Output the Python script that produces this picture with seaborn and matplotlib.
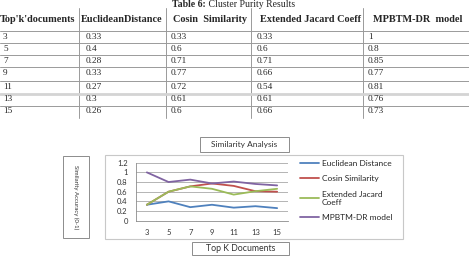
import matplotlib
matplotlib.use("Agg")
import matplotlib.pyplot as plt
from matplotlib.patches import Rectangle
from matplotlib.lines import Line2D
import seaborn as sns
import pandas as pd

# ---------------- data ----------------
top_k = [3, 5, 7, 9, 11, 13, 15]
euclidean = [0.33, 0.4, 0.28, 0.33, 0.27, 0.3, 0.26]
cosine = [0.33, 0.6, 0.71, 0.77, 0.72, 0.61, 0.6]
jacard = [0.33, 0.6, 0.71, 0.66, 0.54, 0.61, 0.66]
mpbtm = [1, 0.8, 0.85, 0.77, 0.81, 0.76, 0.73]
table_values = {
    "euclidean": ["0.33", "0.4", "0.28", "0.33", "0.27", "0.3", "0.26"],
    "cosine": ["0.33", "0.6", "0.71", "0.77", "0.72", "0.61", "0.6"],
    "jacard": ["0.33", "0.6", "0.71", "0.66", "0.54", "0.61", "0.66"],
    "mpbtm": ["1", "0.8", "0.85", "0.77", "0.81", "0.76", "0.73"],
}
headers = ["Top'k'documents", "EuclideanDistance", "Cosin  Similarity",
           "Extended Jacard Coeff", "MPBTM-DR  model"]
series_names = ["Euclidean Distance", "Cosin Similarity", "Extended Jacard Coeff", "MPBTM-DR model"]
legend_labels = ["Euclidean Distance", "Cosin Similarity", "Extended Jacard\nCoeff", "MPBTM-DR model"]
colors = ["#4F81BD", "#C0504D", "#9BBB59", "#8064A2"]
y_ticks = [0, 0.2, 0.4, 0.6, 0.8, 1, 1.2]
y_tick_labels = ["0", "0.2", "0.4", "0.6", "0.8", "1", "1.2"]

# ---------------- setup ----------------
sns.set_style("white")
plt.rcParams["font.family"] = ["Lato", "DejaVu Sans"]

W, H = 469, 260
fig = plt.figure(figsize=(W / 100, H / 100), dpi=100)
fig.patch.set_facecolor("white")

def fx(px):
    return px / W

def fy(py):
    return 1 - py / H

# ---------------- table ----------------
serif = ["Liberation Serif", "DejaVu Serif"]
fig.text(fx(206), fy(4.5), "Table 6:", ha="right", va="center", fontsize=7,
         fontweight="bold", family=serif)
fig.text(fx(206), fy(4.5), " Cluster Purity Results", ha="left", va="center", fontsize=7,
         family=serif)

col_lines = [79, 166, 250.7, 363.3]
row_lines = [31, 43.3, 55.3, 67.3, 80.7, 106.3]
for x in col_lines:
    fig.add_artist(Line2D([fx(x), fx(x)], [fy(8), fy(118)], color="#9a9a9a", lw=0.7))
for y in row_lines:
    fig.add_artist(Line2D([0, 1], [fy(y), fy(y)], color="#9a9a9a", lw=0.7))
fig.add_artist(Line2D([0, 1], [fy(94), fy(94)], color="#d4d4d4", lw=2.0))

header_x = [0, 80.5, 173, 260, 373]
for hx, h in zip(header_x, headers):
    fig.text(fx(hx), fy(19), h, ha="left", va="center", fontsize=7.4,
             fontweight="bold", family=serif)

row_y = [37.3, 49.3, 61.3, 73.3, 86.7, 99.3, 111.3]
data_x = [3, 86, 171, 256.5, 368]
cols = [[str(k) for k in top_k], table_values["euclidean"], table_values["cosine"],
        table_values["jacard"], table_values["mpbtm"]]
for cx, col in zip(data_x, cols):
    for ry, v in zip(row_y, col):
        fig.text(fx(cx), fy(ry), v, ha="left", va="center", fontsize=6.7, family=serif)

# ---------------- chart ----------------
# outer chart frame
fig.add_artist(Rectangle((fx(105), fy(239)), fx(403) - fx(105), fy(155) - fy(239),
                         transform=fig.transFigure, fill=False, ec="#c8c8c8", lw=0.8))

ax = fig.add_axes([fx(136), fy(220.7), fx(288) - fx(136), fy(162.7) - fy(220.7)])

df = pd.DataFrame({
    "k": top_k * 4,
    "value": euclidean + cosine + jacard + mpbtm,
    "series": sum([[s] * len(top_k) for s in series_names], []),
})
sns.lineplot(data=df, x="k", y="value", hue="series", hue_order=series_names,
             palette=colors, linewidth=1.3, ax=ax, legend=True)

ax.set_xlim(2, 16)
ax.set_ylim(0, 1.2)
ax.set_yticks(y_ticks)
ax.set_yticklabels(y_tick_labels)
ax.set_xticks(top_k)
ax.set_xticklabels([str(k) for k in top_k])
ax.set_xticks(list(range(2, 17, 2)), minor=True)
ax.tick_params(axis="x", which="major", length=0, pad=6, labelsize=5.5, colors="#333333")
ax.tick_params(axis="x", which="minor", length=3, width=0.6, color="#8c8c8c", direction="out")
ax.tick_params(axis="y", which="major", length=3, width=0.6, color="#8c8c8c", pad=3,
               labelsize=5.5, labelcolor="#333333", direction="out")
ax.yaxis.grid(True, color="#a8a8a8", lw=0.6)
ax.xaxis.grid(False)
ax.set_axisbelow(True)
for side in ["top", "right"]:
    ax.spines[side].set_visible(False)
for side in ["left", "bottom"]:
    ax.spines[side].set_color("#8c8c8c")
    ax.spines[side].set_linewidth(0.6)
ax.set_xlabel("")
ax.set_ylabel("")

handles, labels = ax.get_legend_handles_labels()
label_map = dict(zip(series_names, legend_labels))
ax.legend(handles, [label_map[l] for l in labels], loc="upper left",
          bbox_to_anchor=(fx(300), fy(160)), bbox_transform=fig.transFigure,
          frameon=False, fontsize=6, handlelength=2.3, handletextpad=0.3,
          labelspacing=1.0, borderaxespad=0, borderpad=0)

# title box
fig.add_artist(Rectangle((fx(200), fy(152)), fx(289) - fx(200), fy(137) - fy(152),
                         transform=fig.transFigure, fill=True, fc="white", ec="#8c8c8c", lw=0.7))
fig.text(fx(244.5), fy(144.5), "Similarity Analysis", ha="center", va="center",
         fontsize=6, color="#333333")

# x label box
fig.add_artist(Rectangle((fx(192), fy(255)), fx(289) - fx(192), fy(242) - fy(255),
                         transform=fig.transFigure, fill=True, fc="white", ec="#8c8c8c", lw=0.7))
fig.text(fx(240.5), fy(248.5), "Top K Documents", ha="center", va="center",
         fontsize=6.3, color="#333333")

# y label box
fig.add_artist(Rectangle((fx(63), fy(238)), fx(89) - fx(63), fy(156) - fy(238),
                         transform=fig.transFigure, fill=True, fc="white", ec="#8c8c8c", lw=0.7))
fig.text(fx(76), fy(197), "Similarity Accuracy (0-1)", ha="center", va="center",
         rotation=-90, fontsize=4.3, color="#333333")

fig.savefig("out.png", dpi=100)
